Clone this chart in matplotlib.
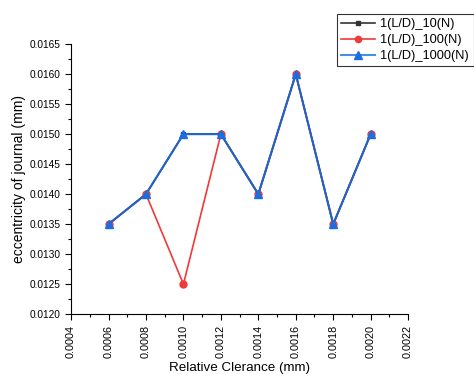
import matplotlib
matplotlib.use("Agg")
import matplotlib.pyplot as plt
from matplotlib.ticker import MultipleLocator, FormatStrFormatter

plt.rcParams["font.family"] = ["Liberation Sans", "DejaVu Sans"]

clearance = [0.0006, 0.0008, 0.0010, 0.0012, 0.0014, 0.0016, 0.0018, 0.0020]
ecc_10 = [0.0135, 0.0140, 0.0150, 0.0150, 0.0140, 0.0160, 0.0135, 0.0150]
ecc_100 = [0.0135, 0.0140, 0.0125, 0.0150, 0.0140, 0.0160, 0.0135, 0.0150]
ecc_1000 = [0.0135, 0.0140, 0.0150, 0.0150, 0.0140, 0.0160, 0.0135, 0.0150]
labels = ["1(L/D)_10(N)", "1(L/D)_100(N)", "1(L/D)_1000(N)"]

fig = plt.figure(figsize=(4.74, 3.74), dpi=100)
ax = fig.add_axes([0.150, 0.160, 0.711, 0.722])

ax.plot(clearance, ecc_10, color="#333333", marker="s", markersize=3.5,
        linewidth=1.2, label=labels[0])
ax.plot(clearance, ecc_100, color="#f03a3a", marker="o", markersize=5,
        linewidth=1.2, label=labels[1])
ax.plot(clearance, ecc_1000, color="#1f64c8", marker="^", markersize=5.8,
        markerfacecolor="#1a6ee0", markeredgecolor="#1a6ee0",
        linewidth=1.5, label=labels[2])

ax.set_xlim(0.0004, 0.0022)
ax.set_ylim(0.0120, 0.0165)
ax.xaxis.set_major_locator(MultipleLocator(0.0002))
ax.xaxis.set_minor_locator(MultipleLocator(0.0001))
ax.yaxis.set_major_locator(MultipleLocator(0.0005))
ax.yaxis.set_minor_locator(MultipleLocator(0.00025))
ax.xaxis.set_major_formatter(FormatStrFormatter("%.4f"))
ax.yaxis.set_major_formatter(FormatStrFormatter("%.4f"))
ax.tick_params(which="major", direction="out", length=4, width=0.8)
ax.tick_params(which="minor", direction="out", length=2, width=0.8)
ax.tick_params(axis="x", which="major", labelrotation=90, labelsize=7.8, pad=3.5)
ax.tick_params(axis="y", which="major", labelsize=7.3)

for side in ("top", "right"):
    ax.spines[side].set_visible(False)

ax.set_xlabel("Relative Clerance (mm)", fontsize=9.6, va="top")
ax.set_ylabel("eccentricity of journal (mm)", fontsize=10)
ax.xaxis.set_label_coords(0.5, -0.176)
ax.yaxis.set_label_coords(-0.134, 0.5)

leg = fig.legend(loc="upper left", bbox_to_anchor=(0.711, 0.963), fontsize=9.2,
                 frameon=True, fancybox=False, edgecolor="black",
                 borderpad=0.35, labelspacing=0.3, handlelength=2.6,
                 handletextpad=0.45, borderaxespad=0, markerscale=0.9)
leg.get_frame().set_linewidth(0.8)
leg.get_lines()[2].set_color("#4a8ee8")

fig.savefig("out.png", dpi=100)
